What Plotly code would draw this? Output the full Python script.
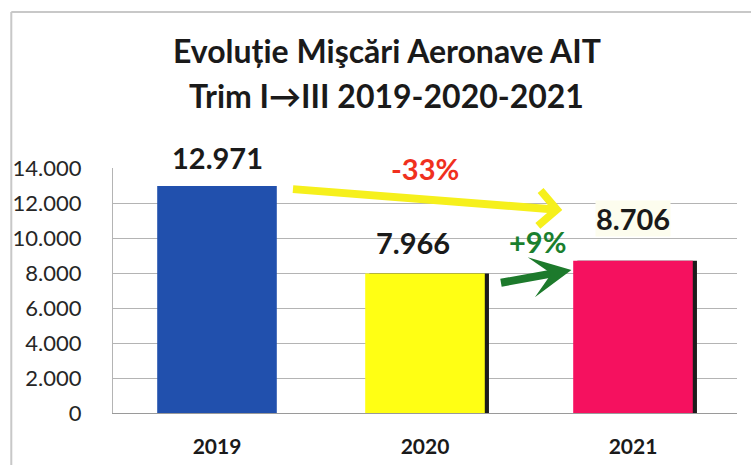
import plotly.graph_objects as go

# ---- data ----
years = ["2019", "2020", "2021"]
movements = [12971, 7966, 8706]
bar_colors = ["#2150ad", "#ffff14", "#f5115f"]
shadow_colors = ["rgba(0,0,0,0)", "#1c1c1c", "#1c1c1c"]
y_ticks = [0, 2000, 4000, 6000, 8000, 10000, 12000, 14000]
title_line1 = "Evoluție Mişcări Aeronave AIT"
title_line2 = "Trim I→III 2019-2020-2021"
change_2019_2021 = "-33%"
change_2020_2021 = "+9%"

FONT = "Lato"
BW = 0.575

fig = go.Figure()
# shadow bars
fig.add_trace(go.Bar(
    x=years, y=movements, width=[BW] * 3, offset=[-BW / 2 + 0.02] * 3,
    marker=dict(color=shadow_colors, line=dict(width=0)), hoverinfo="skip",
))
# main bars
fig.add_trace(go.Bar(
    x=years, y=movements, width=[BW] * 3, offset=[-BW / 2] * 3,
    marker=dict(color=bar_colors, line=dict(width=0)),
))

def fmt(v):
    return f"{v:,}".replace(",", ".")

label_yshift = [29, 31, 42]
label_xshift = [0, -12, 0]
label_bg = ["rgba(0,0,0,0)", "rgba(0,0,0,0)", "#fdfdee"]
for i, (yr, v) in enumerate(zip(years, movements)):
    fig.add_annotation(
        x=i, y=v, xref="x", yref="y", text=f"<b>{fmt(v)}</b>", showarrow=False,
        yshift=label_yshift[i], xshift=label_xshift[i], yanchor="middle",
        bgcolor=label_bg[i], borderpad=0,
        font=dict(family=FONT, size=29, color="#1a1a1a"),
    )

# yellow arrow 2019 -> 2021
fig.add_annotation(
    x=1.66, y=11600, ax=0.358, ay=12800, xref="x", yref="y", axref="x", ayref="y",
    text="", showarrow=True, arrowhead=4, arrowsize=0.85, arrowwidth=8,
    arrowcolor="#f6f01c", standoff=0,
)
# green arrow 2020 -> 2021
fig.add_annotation(
    x=1.704, y=8170, ax=1.358, ay=7430, xref="x", yref="y", axref="x", ayref="y",
    text="", showarrow=True, arrowhead=3, arrowsize=0.85, arrowwidth=8,
    arrowcolor="#1d7a2c", standoff=0,
)
fig.add_annotation(
    x=1.0, y=14000, xref="x", yref="y", text=f"<b>{change_2019_2021}</b>", showarrow=False,
    yanchor="middle", font=dict(family=FONT, size=29, color="#f0301e"),
)
fig.add_annotation(
    x=1.5, y=9800, xref="x", yref="y", text=f"<b>{change_2020_2021}</b>", showarrow=False,
    xshift=8, yanchor="middle", font=dict(family=FONT, size=29, color="#1a7f2e"),
)

# title lines
fig.add_annotation(
    x=0.439, y=1.478, xref="paper", yref="paper", text=f"<b>{title_line1}</b>",
    showarrow=False, xanchor="center", yanchor="middle",
    font=dict(family=FONT, size=32, color="#1a1a1a"),
)
fig.add_annotation(
    x=0.439, y=1.294, xref="paper", yref="paper", text=f"<b>{title_line2}</b>",
    showarrow=False, xanchor="center", yanchor="middle",
    font=dict(family=FONT, size=32, color="#1a1a1a"),
)

# chart border (scanned frame)
fig.add_shape(type="line", xref="paper", yref="paper", x0=-0.163, x1=-0.163, y0=1.637, y1=-0.25,
              line=dict(color="#c8c8c8", width=2))
fig.add_shape(type="line", xref="paper", yref="paper", x0=-0.163, x1=1.05, y0=1.637, y1=1.637,
              line=dict(color="#c8c8c8", width=2))

fig.update_layout(
    width=751, height=465,
    margin=dict(l=113, r=14, t=168, b=52),
    paper_bgcolor="white", plot_bgcolor="white",
    barmode="overlay", showlegend=False,
    separators=",.",
    font=dict(family=FONT),
)
fig.update_xaxes(
    type="category", showgrid=False, showline=True, linecolor="#9a9a9a", linewidth=1,
    ticks="", tickfont=dict(family=FONT, size=21, color="#1a1a1a", weight="bold"),
    ticklabelstandoff=15, range=[-0.5, 2.5], automargin=False,
)
fig.update_yaxes(
    range=[0, 14000], tickvals=y_ticks, tickformat=",d",
    showgrid=True, gridcolor="#b4b4b4", gridwidth=1,
    showline=True, linecolor="#b4b4b4", linewidth=1, zeroline=False,
    ticks="", tickfont=dict(family=FONT, size=22, color="#262626"),
    ticklabelstandoff=26, automargin=False,
)

fig.write_html("out.html")
